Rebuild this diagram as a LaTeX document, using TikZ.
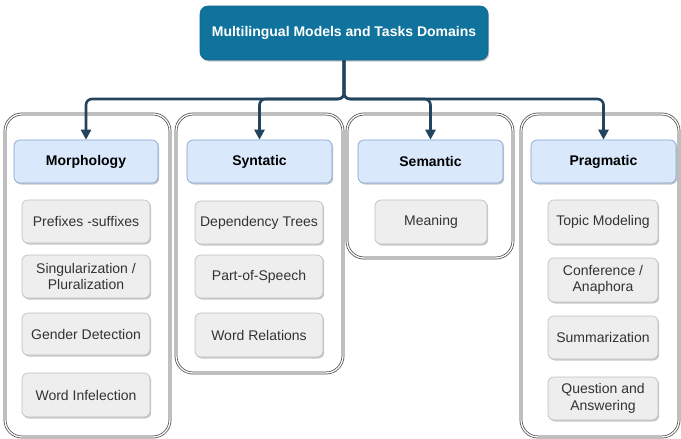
\documentclass[tikz,border=0pt]{standalone}
\usepackage{fontspec}
\setmainfont{Liberation Sans}
\usetikzlibrary{arrows.meta,shadows}

\definecolor{rootfill}{HTML}{10739E}
\definecolor{rootdraw}{HTML}{0E6590}
\definecolor{catfill}{HTML}{DAE8FC}
\definecolor{catdraw}{HTML}{7EA0CF}
\definecolor{leaffill}{HTML}{EEEEEE}
\definecolor{leafdraw}{HTML}{BDBDBD}
\definecolor{leaftext}{HTML}{333333}
\definecolor{linkcol}{HTML}{23445D}
\definecolor{framecol}{HTML}{4A4A4A}

\tikzset{
  softshadow/.style={drop shadow={shadow xshift=1.2pt, shadow yshift=-1.5pt, fill=black, opacity=0.22}},
  rootbox/.style={draw=rootdraw, fill=rootfill, rounded corners=8pt, line width=0.6pt,
    text=white, font=\fontsize{14}{16}\selectfont\bfseries, softshadow, inner sep=0pt},
  catbox/.style={draw=catdraw, fill=catfill, rounded corners=6pt, line width=0.6pt,
    text=black, font=\fontsize{14}{16}\selectfont\bfseries, softshadow, inner sep=0pt},
  leafbox/.style={draw=leafdraw, fill=leaffill, rounded corners=6pt, line width=0.6pt,
    text=leaftext, font=\fontsize{14}{16.5}\selectfont, align=center, softshadow, inner sep=0pt},
  frame/.style={draw=framecol, double=white, double distance=1.3pt, line width=0.75pt,
    rounded corners=17pt, inner sep=0pt},
  link/.style={draw=linkcol, line width=2.6pt, rounded corners=6pt,
    -{Triangle[length=10pt,width=10pt]}},
}

% box given by its corners in pixel-like units (y grows downward)
\newcommand{\pbox}[7]{%
  \node[#1, minimum width={#5-#3}, minimum height={#6-#4}] (#2) at ({(#3+#5)/2},{(#4+#6)/2}) {#7};}

\begin{document}
\begin{tikzpicture}[x=1pt,y=-1pt]
\useasboundingbox (0,0) rectangle (681,439);

% outer frames of the four domains
\pbox{frame}{morphF}{5}{114}{170}{437}{}
\pbox{frame}{syntF}{176}{114}{343}{373}{}
\pbox{frame}{semF}{347}{114}{513}{258}{}
\pbox{frame}{pragF}{521}{114}{679}{437}{}

% root
\pbox{rootbox}{root}{200}{6}{488}{60}{Multilingual Models and Tasks Domains}

% domain headers
\pbox{catbox}{morph}{14}{140}{158}{183}{Morphology}
\pbox{catbox}{synt}{187}{140}{332}{183}{Syntatic}
\pbox{catbox}{sem}{358}{140}{503}{183}{Semantic}
\pbox{catbox}{prag}{531}{140}{676}{183}{Pragmatic}

% morphology tasks
\pbox{leafbox}{m1}{22}{200}{150}{243}{Prefixes -suffixes}
\pbox{leafbox}{m2}{22}{255}{150}{298}{Singularization /\\ Pluralization}
\pbox{leafbox}{m3}{22}{313}{150}{355}{Gender Detection}
\pbox{leafbox}{m4}{22}{373}{150}{417}{Word Infelection}

% syntactic tasks
\pbox{leafbox}{s1}{195}{201}{323}{244}{Dependency Trees}
\pbox{leafbox}{s2}{195}{255}{323}{298}{Part-of-Speech}
\pbox{leafbox}{s3}{195}{313}{323}{357}{Word Relations}

% semantic tasks
\pbox{leafbox}{e1}{375}{200}{487}{244}{Meaning}

% pragmatic tasks
\pbox{leafbox}{p1}{548}{200}{658}{244}{Topic Modeling}
\pbox{leafbox}{p2}{548}{258}{658}{302}{Conference /\\ Anaphora}
\pbox{leafbox}{p3}{548}{316}{658}{359}{Summarization}
\pbox{leafbox}{p4}{548}{377}{658}{420}{Question and\\ Answering}

% connectors from the root to each domain
\coordinate (bus) at (root.south |- 0,99);
\foreach \t in {morph,synt,sem,prag}{
  \draw[link] (root.south) -- (bus) -| (\t.north);
}
\end{tikzpicture}
\end{document}
